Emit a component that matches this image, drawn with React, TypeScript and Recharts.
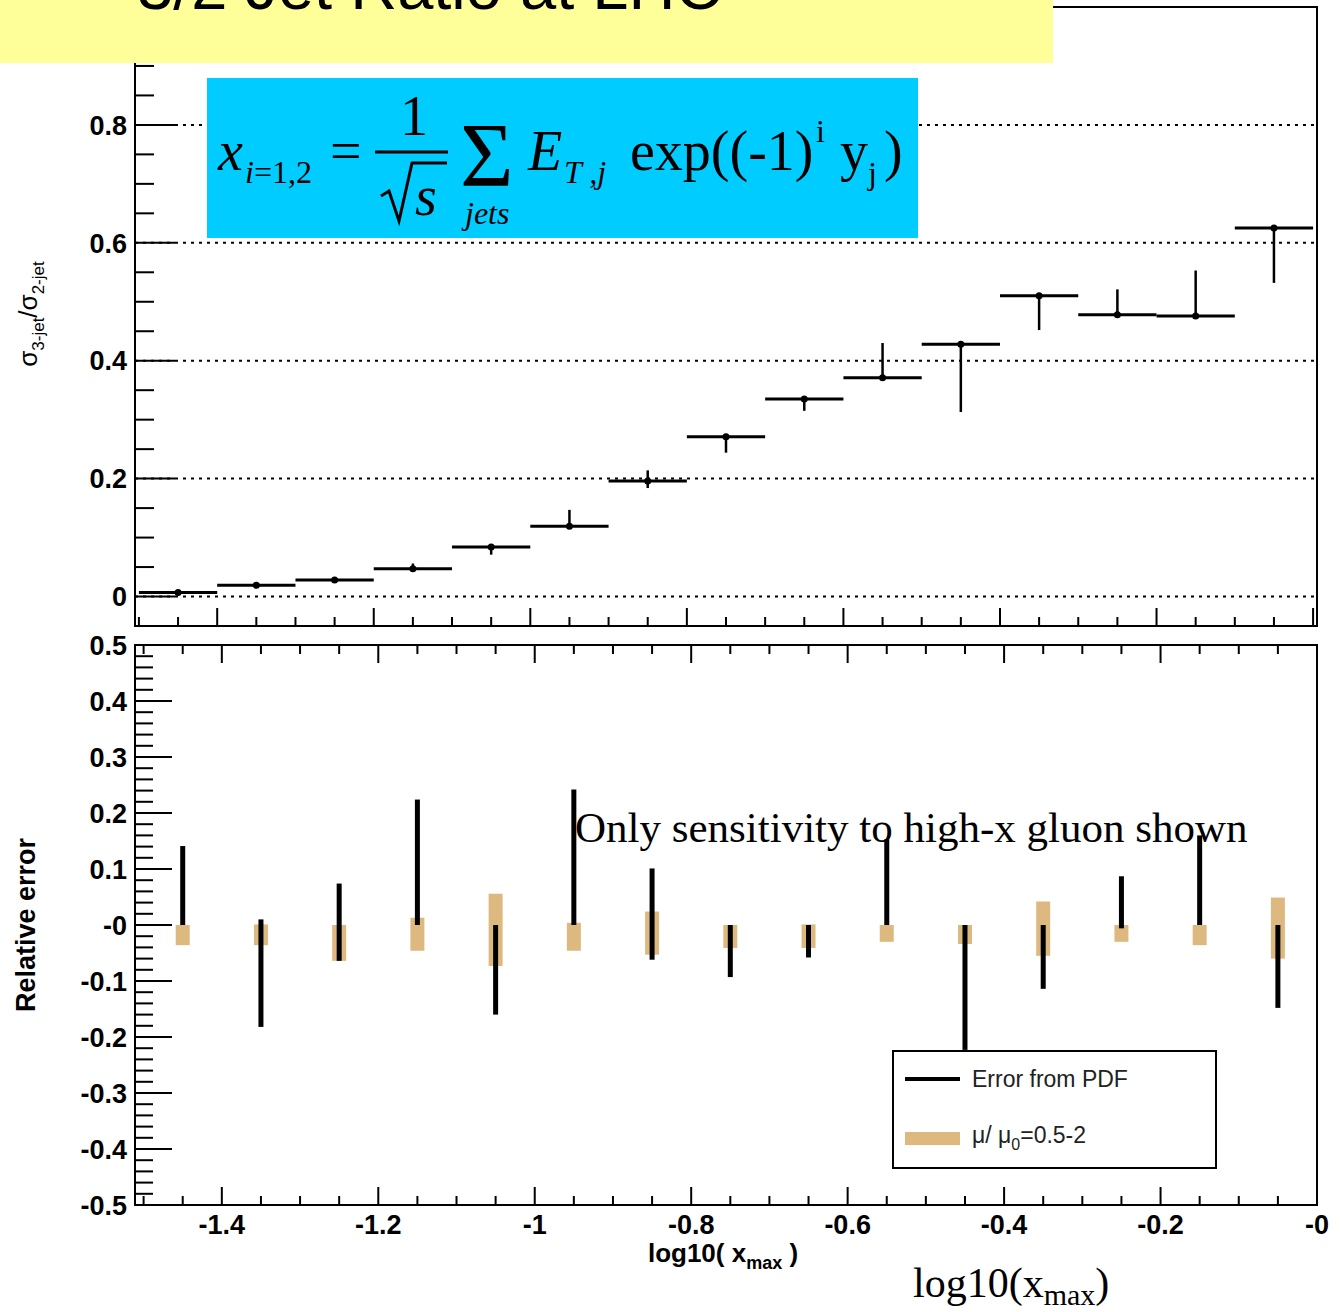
import React from 'react';
import {
  ScatterChart,
  Scatter,
  XAxis,
  YAxis,
  ErrorBar,
  ReferenceLine,
  ReferenceArea,
  Legend,
} from 'recharts';

// bin centres in log10(x_max), bins are 0.1 wide
const binCentres = [-1.45, -1.35, -1.25, -1.15, -1.05, -0.95, -0.85, -0.75, -0.65, -0.55, -0.45, -0.35, -0.25, -0.15, -0.05];
const binHalfWidth = 0.05;

// upper panel: sigma(3-jet)/sigma(2-jet) with error band ends
const jetRatio = [0.007, 0.019, 0.028, 0.047, 0.084, 0.119, 0.196, 0.271, 0.335, 0.371, 0.428, 0.51, 0.478, 0.476, 0.625];
const ratioLow = [0.004, 0.017, 0.026, 0.044, 0.071, 0.117, 0.184, 0.244, 0.315, 0.371, 0.313, 0.452, 0.478, 0.476, 0.532];
const ratioHigh = [0.01, 0.021, 0.03, 0.056, 0.086, 0.147, 0.214, 0.273, 0.337, 0.43, 0.43, 0.512, 0.521, 0.553, 0.628];

// lower panel: relative errors
const pdfLow = [0, -0.182, -0.064, 0, -0.16, 0, -0.062, -0.093, -0.058, 0, -0.223, -0.114, -0.006, 0, -0.148];
const pdfHigh = [0.141, 0.01, 0.074, 0.224, 0, 0.242, 0.101, 0, 0, 0.153, 0, 0, 0.087, 0.16, 0];
const scaleLow = [-0.036, -0.036, -0.064, -0.046, -0.073, -0.046, -0.053, -0.041, -0.041, -0.03, -0.034, -0.055, -0.03, -0.036, -0.06];
const scaleHigh = [0, 0.001, 0, 0.013, 0.056, 0.004, 0.024, 0, 0.001, 0, 0, 0.042, 0, 0, 0.049];

// axis labels
const topYMajor = [0, 0.2, 0.4, 0.6, 0.8, 1.0];
const topYLabels = ['0', '0.2', '0.4', '0.6', '0.8', ''];
const gridLevels = [0, 0.2, 0.4, 0.6, 0.8];
const botYMajor = [0.5, 0.4, 0.3, 0.2, 0.1, 0, -0.1, -0.2, -0.3, -0.4, -0.5];
const botYLabels = ['0.5', '0.4', '0.3', '0.2', '0.1', '-0', '-0.1', '-0.2', '-0.3', '-0.4', '-0.5'];
const xMajor = [-1.4, -1.2, -1.0, -0.8, -0.6, -0.4, -0.2, 0];
const xLabels = ['-1.4', '-1.2', '-1', '-0.8', '-0.6', '-0.4', '-0.2', '-0'];

const TOP_X_DOMAIN: [number, number] = [-1.505, 0.005];
const BOT_X_DOMAIN: [number, number] = [-1.511, 0];
const TAN = '#DDB97F';
const SANS = '"Liberation Sans", Arial, Helvetica, sans-serif';
const SERIF = '"Liberation Serif", "Times New Roman", serif';
const BOT_PLOT_H = 560;

const steps = (from: number, to: number, step: number) => {
  const out: number[] = [];
  const n = Math.round((to - from) / step);
  for (let i = 0; i <= n; i++) out.push(+(from + i * step).toFixed(4));
  return out;
};

const topXTicks = steps(-1.5, 0, 0.05);
const botXTicks = steps(-1.5, 0, 0.05);
const topYTicks = steps(-0.05, 1.0, 0.05);
const botYTicks = steps(-0.5, 0.5, 0.02);

const topData = binCentres.map((x, i) => ({
  x,
  y: jetRatio[i],
  xErr: binHalfWidth,
  yErr: [jetRatio[i] - ratioLow[i], ratioHigh[i] - jetRatio[i]],
}));
const pdfData = binCentres.map((x, i) => ({ x, y: 0, yErr: [-pdfLow[i], pdfHigh[i]] }));
const scaleData = binCentres.map((x, i) => ({ x, y: 0, yErr: [-scaleLow[i], scaleHigh[i]] }));

const findMajor = (list: number[], v: number) => list.findIndex((m) => Math.abs(m - v) < 1e-6);

const leftTick = (majors: number[], labels: string[], majorLen: number, minorLen: number) => (props: any) => {
  const { x, y, payload } = props;
  const idx = findMajor(majors, payload.value);
  return (
    <g>
      <line x1={x} x2={x + (idx >= 0 ? majorLen : minorLen)} y1={y} y2={y} stroke="#000" strokeWidth={2} />
      {idx >= 0 && labels[idx] !== '' && (
        <text x={x - 8} y={y} dy="0.36em" textAnchor="end" fontFamily={SANS} fontWeight="bold" fontSize={27} fill="#000">
          {labels[idx]}
        </text>
      )}
    </g>
  );
};

const topXTick = (props: any) => {
  const { x, y, payload } = props;
  const major = findMajor(xMajor, payload.value) >= 0;
  return <line x1={x} x2={x} y1={y} y2={y - (major ? 18 : 9)} stroke="#000" strokeWidth={2} />;
};

const botXTick = (props: any) => {
  const { x, y, payload } = props;
  const idx = findMajor(xMajor, payload.value);
  const len = idx >= 0 ? 18 : 9;
  return (
    <g>
      <line x1={x} x2={x} y1={y} y2={y - len} stroke="#000" strokeWidth={2} />
      <line x1={x} x2={x} y1={y - BOT_PLOT_H} y2={y - BOT_PLOT_H + len} stroke="#000" strokeWidth={2} />
      {idx >= 0 && (
        <text x={x} y={y + 29} textAnchor="middle" fontFamily={SANS} fontWeight="bold" fontSize={27} fill="#000">
          {xLabels[idx]}
        </text>
      )}
    </g>
  );
};

const dot = (p: any) => <circle cx={p.cx} cy={p.cy} r={3.5} fill="#000" />;
const noDot = () => <g />;

const renderLegend = () => (
  <svg width={325} height={119} style={{ display: 'block' }}>
    <rect x={1} y={1} width={323} height={117} fill="#fff" stroke="#000" strokeWidth={2} />
    <line x1={13} x2={68} y1={29} y2={29} stroke="#000" strokeWidth={4} />
    <text x={80} y={37} fontFamily={SANS} fontSize={23} fill="#222">Error from PDF</text>
    <rect x={13} y={82} width={55} height={13} fill={TAN} />
    <text x={80} y={93} fontFamily={SANS} fontSize={23} fill="#222">
      μ/ μ<tspan dy={7} fontSize={16}>0</tspan><tspan dy={-7}>=0.5-2</tspan>
    </text>
  </svg>
);

const axisLine = { stroke: '#000', strokeWidth: 2 };
const BOT_TOP = 620;

export default function App() {
  return (
    <div style={{ position: 'fixed', left: 0, top: 0, width: 1340, height: 1312, background: '#fff' }}>
      <div style={{ position: 'absolute', left: 0, top: 0 }}>
        <ScatterChart width={1340} height={632} margin={{ top: 7, right: 23, bottom: 2, left: 75 }}>
          <XAxis type="number" dataKey="x" domain={TOP_X_DOMAIN} allowDataOverflow ticks={topXTicks} interval={0}
            height={4} tickSize={0} tickMargin={0} tickLine={false} axisLine={axisLine} tick={topXTick} />
          <YAxis type="number" dataKey="y" domain={[-0.05, 1]} allowDataOverflow ticks={topYTicks} interval={0}
            width={60} tickSize={0} tickMargin={0} tickLine={false} axisLine={axisLine}
            tick={leftTick(topYMajor, topYLabels, 40, 19)} />
          <ReferenceArea x1={TOP_X_DOMAIN[0]} x2={TOP_X_DOMAIN[1]} y1={-0.05} y2={1} fill="none" fillOpacity={0}
            stroke="#000" strokeWidth={2} ifOverflow="visible" />
          {gridLevels.map((v) => (
            <ReferenceLine key={v} y={v} stroke="#000" strokeWidth={2} strokeDasharray="3 5" />
          ))}
          <Scatter data={topData} shape={dot} isAnimationActive={false}>
            <ErrorBar dataKey="xErr" direction="x" width={0} stroke="#000" strokeWidth={3} isAnimationActive={false} />
            <ErrorBar dataKey="yErr" direction="y" width={0} stroke="#000" strokeWidth={2.5} isAnimationActive={false} />
          </Scatter>
        </ScatterChart>
      </div>

      <div style={{ position: 'absolute', left: 0, top: BOT_TOP }}>
        <ScatterChart width={1340} height={1312 - BOT_TOP} margin={{ top: 645 - BOT_TOP, right: 23, bottom: 47, left: 75 }}>
          <XAxis type="number" dataKey="x" domain={BOT_X_DOMAIN} allowDataOverflow ticks={botXTicks} interval={0}
            height={60} tickSize={0} tickMargin={0} tickLine={false} axisLine={axisLine} tick={botXTick} />
          <YAxis type="number" dataKey="y" domain={[-0.5, 0.5]} allowDataOverflow ticks={botYTicks} interval={0}
            width={60} tickSize={0} tickMargin={0} tickLine={false} axisLine={axisLine}
            tick={leftTick(botYMajor, botYLabels, 37, 18)} />
          <ReferenceArea x1={BOT_X_DOMAIN[0]} x2={BOT_X_DOMAIN[1]} y1={-0.5} y2={0.5} fill="none" fillOpacity={0}
            stroke="#000" strokeWidth={2} ifOverflow="visible" />
          <Scatter name="scale" data={scaleData} shape={noDot} isAnimationActive={false}>
            <ErrorBar dataKey="yErr" direction="y" width={0} stroke={TAN} strokeWidth={14} isAnimationActive={false} />
          </Scatter>
          <Scatter name="pdf" data={pdfData} shape={noDot} isAnimationActive={false}>
            <ErrorBar dataKey="yErr" direction="y" width={0} stroke="#000" strokeWidth={5} isAnimationActive={false} />
          </Scatter>
          <Legend content={renderLegend} layout="vertical" align="center" verticalAlign="middle"
            wrapperStyle={{ left: 892, top: 1050 - BOT_TOP, width: 325, height: 119 }} />
        </ScatterChart>
      </div>

      <svg width={1340} height={1312} style={{ position: 'absolute', left: 0, top: 0, pointerEvents: 'none' }}>
        {/* slide title box */}
        <rect x={0} y={0} width={1053} height={63} fill="#FFFF99" />
        <text x={137} y={9} fontFamily={SANS} fontSize={65} fill="#000">3/2 Jet Ratio  at LHC</text>

        {/* formula box */}
        <rect x={207} y={78} width={711} height={160} fill="#00CCFF" />
        <g fontFamily={SERIF} fill="#000">
          <text x={218} y={170} fontSize={56} fontStyle="italic">x</text>
          <text x={245} y={183} fontSize={32}><tspan fontStyle="italic">i</tspan>=1,2</text>
          <text x={330} y={170} fontSize={56}>=</text>
          <text x={400} y={135} fontSize={56}>1</text>
          <line x1={375} x2={448} y1={152} y2={152} stroke="#000" strokeWidth={3} />
          <polyline points="381,196 389,191 399,221 412,163 447,163" fill="none" stroke="#000" strokeWidth={3} />
          <text x={415} y={215} fontSize={56} fontStyle="italic">s</text>
          <text x={460} y={186} fontSize={92}>Σ</text>
          <text x={465} y={224} fontSize={32} fontStyle="italic">jets</text>
          <text x={528} y={170} fontSize={56} fontStyle="italic">E</text>
          <text x={564} y={183} fontSize={32} fontStyle="italic">T ,j</text>
          <text x={630} y={170} fontSize={56}>exp((-1)</text>
          <text x={816} y={142} fontSize={32}>i</text>
          <text x={840} y={170} fontSize={56}>y</text>
          <text x={868} y={184} fontSize={32}>j</text>
          <text x={884} y={170} fontSize={56}>)</text>
        </g>

        {/* annotations */}
        <text x={575} y={842} fontFamily={SERIF} fontSize={43} fill="#000">Only sensitivity to high-x gluon shown</text>
        <text x={913} y={1297} fontFamily={SERIF} fontSize={42} fill="#000">
          log10(x<tspan dy={8} fontSize={30}>max</tspan><tspan dy={-8}>)</tspan>
        </text>

        {/* axis titles */}
        <text x={723} y={1262} textAnchor="middle" fontFamily={SANS} fontWeight="bold" fontSize={26} fill="#000">
          log10( x<tspan dy={7} fontSize={18}>max</tspan><tspan dy={-7}> )</tspan>
        </text>
        <text transform="rotate(-90 37 314)" x={37} y={314} textAnchor="middle" fontFamily={SANS} fontSize={26} fill="#000">
          σ<tspan dy={7} fontSize={17}>3-jet</tspan><tspan dy={-7}>/σ</tspan><tspan dy={7} fontSize={17}>2-jet</tspan>
        </text>
        <text transform="rotate(-90 35 925)" x={35} y={925} textAnchor="middle" fontFamily={SANS} fontWeight="bold" fontSize={27} fill="#000">
          Relative error
        </text>
      </svg>
    </div>
  );
}
